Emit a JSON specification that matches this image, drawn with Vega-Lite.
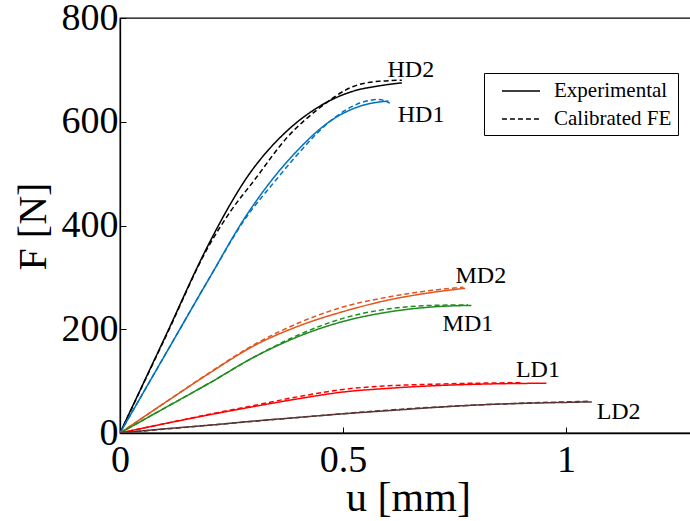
{
  "$schema": "https://vega.github.io/schema/vega-lite/v6.json",
  "width": 572,
  "height": 415,
  "autosize": {"type": "none"},
  "padding": {"left": 120, "top": 18, "right": 0, "bottom": 88},
  "background": "white",
  "config": {
    "view": {"stroke": "black", "strokeWidth": 1.3},
    "font": "Liberation Serif",
    "axis": {"grid": false, "domainColor": "black", "domainWidth": 1.3, "tickColor": "black", "tickWidth": 1, "labelColor": "black", "titleColor": "black", "labelFont": "Liberation Serif", "titleFont": "Liberation Serif", "titleFontWeight": "normal"}
  },
  "datasets": {
    "curves": [
      {"s": "HD2", "t": "Experimental", "u": 0, "F": 0},
      {"s": "HD2", "t": "Experimental", "u": 0.1, "F": 183},
      {"s": "HD2", "t": "Experimental", "u": 0.2, "F": 366},
      {"s": "HD2", "t": "Experimental", "u": 0.25, "F": 445},
      {"s": "HD2", "t": "Experimental", "u": 0.284, "F": 492},
      {"s": "HD2", "t": "Experimental", "u": 0.321, "F": 534},
      {"s": "HD2", "t": "Experimental", "u": 0.374, "F": 582},
      {"s": "HD2", "t": "Experimental", "u": 0.448, "F": 630},
      {"s": "HD2", "t": "Experimental", "u": 0.523, "F": 659},
      {"s": "HD2", "t": "Experimental", "u": 0.58, "F": 669},
      {"s": "HD2", "t": "Experimental", "u": 0.632, "F": 675},
      {"s": "HD2", "t": "Calibrated FE", "u": 0, "F": 0},
      {"s": "HD2", "t": "Calibrated FE", "u": 0.1, "F": 181},
      {"s": "HD2", "t": "Calibrated FE", "u": 0.2, "F": 362},
      {"s": "HD2", "t": "Calibrated FE", "u": 0.25, "F": 430},
      {"s": "HD2", "t": "Calibrated FE", "u": 0.3, "F": 486},
      {"s": "HD2", "t": "Calibrated FE", "u": 0.374, "F": 569},
      {"s": "HD2", "t": "Calibrated FE", "u": 0.448, "F": 627},
      {"s": "HD2", "t": "Calibrated FE", "u": 0.523, "F": 668},
      {"s": "HD2", "t": "Calibrated FE", "u": 0.58, "F": 678},
      {"s": "HD2", "t": "Calibrated FE", "u": 0.632, "F": 680},
      {"s": "HD1", "t": "Experimental", "u": 0, "F": 0},
      {"s": "HD1", "t": "Experimental", "u": 0.1, "F": 149},
      {"s": "HD1", "t": "Experimental", "u": 0.2, "F": 298},
      {"s": "HD1", "t": "Experimental", "u": 0.28, "F": 415},
      {"s": "HD1", "t": "Experimental", "u": 0.35, "F": 498},
      {"s": "HD1", "t": "Experimental", "u": 0.396, "F": 543},
      {"s": "HD1", "t": "Experimental", "u": 0.471, "F": 601},
      {"s": "HD1", "t": "Experimental", "u": 0.538, "F": 630},
      {"s": "HD1", "t": "Experimental", "u": 0.602, "F": 640},
      {"s": "HD1", "t": "Calibrated FE", "u": 0, "F": 0},
      {"s": "HD1", "t": "Calibrated FE", "u": 0.1, "F": 149},
      {"s": "HD1", "t": "Calibrated FE", "u": 0.2, "F": 298},
      {"s": "HD1", "t": "Calibrated FE", "u": 0.28, "F": 412},
      {"s": "HD1", "t": "Calibrated FE", "u": 0.35, "F": 488},
      {"s": "HD1", "t": "Calibrated FE", "u": 0.396, "F": 535},
      {"s": "HD1", "t": "Calibrated FE", "u": 0.471, "F": 601},
      {"s": "HD1", "t": "Calibrated FE", "u": 0.538, "F": 636},
      {"s": "HD1", "t": "Calibrated FE", "u": 0.58, "F": 643},
      {"s": "HD1", "t": "Calibrated FE", "u": 0.605, "F": 636},
      {"s": "MD2", "t": "Experimental", "u": 0, "F": 0},
      {"s": "MD2", "t": "Experimental", "u": 0.1, "F": 58},
      {"s": "MD2", "t": "Experimental", "u": 0.2, "F": 115},
      {"s": "MD2", "t": "Experimental", "u": 0.3, "F": 168},
      {"s": "MD2", "t": "Experimental", "u": 0.4, "F": 206},
      {"s": "MD2", "t": "Experimental", "u": 0.5, "F": 234},
      {"s": "MD2", "t": "Experimental", "u": 0.6, "F": 256},
      {"s": "MD2", "t": "Experimental", "u": 0.7, "F": 271},
      {"s": "MD2", "t": "Experimental", "u": 0.774, "F": 279},
      {"s": "MD2", "t": "Calibrated FE", "u": 0, "F": 0},
      {"s": "MD2", "t": "Calibrated FE", "u": 0.1, "F": 58},
      {"s": "MD2", "t": "Calibrated FE", "u": 0.2, "F": 116},
      {"s": "MD2", "t": "Calibrated FE", "u": 0.3, "F": 170},
      {"s": "MD2", "t": "Calibrated FE", "u": 0.4, "F": 212},
      {"s": "MD2", "t": "Calibrated FE", "u": 0.5, "F": 243},
      {"s": "MD2", "t": "Calibrated FE", "u": 0.6, "F": 262},
      {"s": "MD2", "t": "Calibrated FE", "u": 0.7, "F": 275},
      {"s": "MD2", "t": "Calibrated FE", "u": 0.77, "F": 281},
      {"s": "MD1", "t": "Experimental", "u": 0, "F": 0},
      {"s": "MD1", "t": "Experimental", "u": 0.1, "F": 48},
      {"s": "MD1", "t": "Experimental", "u": 0.2, "F": 96},
      {"s": "MD1", "t": "Experimental", "u": 0.3, "F": 146},
      {"s": "MD1", "t": "Experimental", "u": 0.4, "F": 186},
      {"s": "MD1", "t": "Experimental", "u": 0.5, "F": 215},
      {"s": "MD1", "t": "Experimental", "u": 0.6, "F": 233},
      {"s": "MD1", "t": "Experimental", "u": 0.7, "F": 243},
      {"s": "MD1", "t": "Experimental", "u": 0.788, "F": 246},
      {"s": "MD1", "t": "Calibrated FE", "u": 0, "F": 0},
      {"s": "MD1", "t": "Calibrated FE", "u": 0.1, "F": 48},
      {"s": "MD1", "t": "Calibrated FE", "u": 0.2, "F": 96},
      {"s": "MD1", "t": "Calibrated FE", "u": 0.3, "F": 146},
      {"s": "MD1", "t": "Calibrated FE", "u": 0.4, "F": 189},
      {"s": "MD1", "t": "Calibrated FE", "u": 0.5, "F": 221},
      {"s": "MD1", "t": "Calibrated FE", "u": 0.6, "F": 239},
      {"s": "MD1", "t": "Calibrated FE", "u": 0.7, "F": 246},
      {"s": "MD1", "t": "Calibrated FE", "u": 0.78, "F": 247},
      {"s": "LD1", "t": "Experimental", "u": 0, "F": 0},
      {"s": "LD1", "t": "Experimental", "u": 0.1, "F": 18},
      {"s": "LD1", "t": "Experimental", "u": 0.2, "F": 35},
      {"s": "LD1", "t": "Experimental", "u": 0.3, "F": 51},
      {"s": "LD1", "t": "Experimental", "u": 0.4, "F": 66},
      {"s": "LD1", "t": "Experimental", "u": 0.5, "F": 79},
      {"s": "LD1", "t": "Experimental", "u": 0.6, "F": 86},
      {"s": "LD1", "t": "Experimental", "u": 0.7, "F": 91},
      {"s": "LD1", "t": "Experimental", "u": 0.8, "F": 94},
      {"s": "LD1", "t": "Experimental", "u": 0.956, "F": 96},
      {"s": "LD1", "t": "Calibrated FE", "u": 0, "F": 0},
      {"s": "LD1", "t": "Calibrated FE", "u": 0.1, "F": 18},
      {"s": "LD1", "t": "Calibrated FE", "u": 0.2, "F": 36},
      {"s": "LD1", "t": "Calibrated FE", "u": 0.3, "F": 53},
      {"s": "LD1", "t": "Calibrated FE", "u": 0.4, "F": 70},
      {"s": "LD1", "t": "Calibrated FE", "u": 0.5, "F": 84},
      {"s": "LD1", "t": "Calibrated FE", "u": 0.6, "F": 91},
      {"s": "LD1", "t": "Calibrated FE", "u": 0.7, "F": 94},
      {"s": "LD1", "t": "Calibrated FE", "u": 0.8, "F": 96},
      {"s": "LD1", "t": "Calibrated FE", "u": 0.9, "F": 97},
      {"s": "LD2", "t": "Experimental", "u": 0, "F": 0},
      {"s": "LD2", "t": "Experimental", "u": 0.1, "F": 8},
      {"s": "LD2", "t": "Experimental", "u": 0.2, "F": 15},
      {"s": "LD2", "t": "Experimental", "u": 0.3, "F": 23},
      {"s": "LD2", "t": "Experimental", "u": 0.4, "F": 30},
      {"s": "LD2", "t": "Experimental", "u": 0.5, "F": 37},
      {"s": "LD2", "t": "Experimental", "u": 0.6, "F": 43},
      {"s": "LD2", "t": "Experimental", "u": 0.7, "F": 49},
      {"s": "LD2", "t": "Experimental", "u": 0.8, "F": 54},
      {"s": "LD2", "t": "Experimental", "u": 0.9, "F": 57},
      {"s": "LD2", "t": "Experimental", "u": 1.0, "F": 59},
      {"s": "LD2", "t": "Experimental", "u": 1.058, "F": 60},
      {"s": "LD2", "t": "Calibrated FE", "u": 0, "F": 0},
      {"s": "LD2", "t": "Calibrated FE", "u": 0.2, "F": 15},
      {"s": "LD2", "t": "Calibrated FE", "u": 0.4, "F": 30},
      {"s": "LD2", "t": "Calibrated FE", "u": 0.6, "F": 44},
      {"s": "LD2", "t": "Calibrated FE", "u": 0.8, "F": 54},
      {"s": "LD2", "t": "Calibrated FE", "u": 1.0, "F": 60},
      {"s": "LD2", "t": "Calibrated FE", "u": 1.05, "F": 61}
    ],
    "labels": [
      {"name": "HD2", "u": 0.652, "F": 699},
      {"name": "HD1", "u": 0.675, "F": 613},
      {"name": "MD2", "u": 0.809, "F": 302},
      {"name": "MD1", "u": 0.78, "F": 211},
      {"name": "LD1", "u": 0.937, "F": 122},
      {"name": "LD2", "u": 1.118, "F": 40}
    ]
  },
  "layer": [
    {
      "data": {"name": "curves"},
      "mark": {"type": "line", "strokeWidth": 1.5, "clip": true, "interpolate": "monotone"},
      "encoding": {
        "x": {"field": "u", "type": "quantitative",
          "scale": {"domain": [0, 1.2825], "nice": false, "zero": false},
          "axis": {"title": "u [mm]", "values": [0, 0.5, 1], "format": "~g", "tickSize": -6, "labelFontSize": 38, "labelPadding": 14, "titleFontSize": 42, "titleX": 288, "titleY": 77, "titleBaseline": "alphabetic", "titleAlign": "center", "labelFlush": false}},
        "y": {"field": "F", "type": "quantitative",
          "scale": {"domain": [0, 800], "nice": false},
          "axis": {"title": "F [N]", "values": [0, 200, 400, 600, 800], "tickSize": -6, "labelFontSize": 38, "labelPadding": 8, "titleFontSize": 40, "titleX": -87, "titleY": 208, "titleAngle": -90, "titleAlign": "center", "titleBaseline": "middle", "labelFlush": false}},
        "color": {"field": "s", "type": "nominal", "legend": null,
          "scale": {"domain": ["HD2", "HD1", "MD2", "MD1", "LD1", "LD2"], "range": ["#000000", "#0072BD", "#E0561E", "#1E8C1E", "#FF0000", "#5A3535"]}},
        "strokeDash": {"field": "t", "type": "nominal",
          "scale": {"domain": ["Experimental", "Calibrated FE"], "range": [[1, 0], [5, 3]]},
          "legend": {"title": null, "orient": "none", "legendX": 364, "legendY": 55, "strokeColor": "black", "fillColor": "white", "padding": 6, "symbolType": "M-1.73,0H1.73", "symbolStrokeColor": "black", "symbolStrokeWidth": 1.3, "symbolSize": 484, "labelFontSize": 21, "labelFont": "Liberation Serif", "labelColor": "black", "rowPadding": 6, "labelOffset": 21, "symbolOffset": 19}}
      }
    },
    {
      "data": {"name": "labels"},
      "mark": {"type": "text", "fontSize": 24, "font": "Liberation Serif", "color": "black", "align": "center", "baseline": "middle"},
      "encoding": {
        "x": {"field": "u", "type": "quantitative"},
        "y": {"field": "F", "type": "quantitative"},
        "text": {"field": "name"}
      }
    }
  ]
}
